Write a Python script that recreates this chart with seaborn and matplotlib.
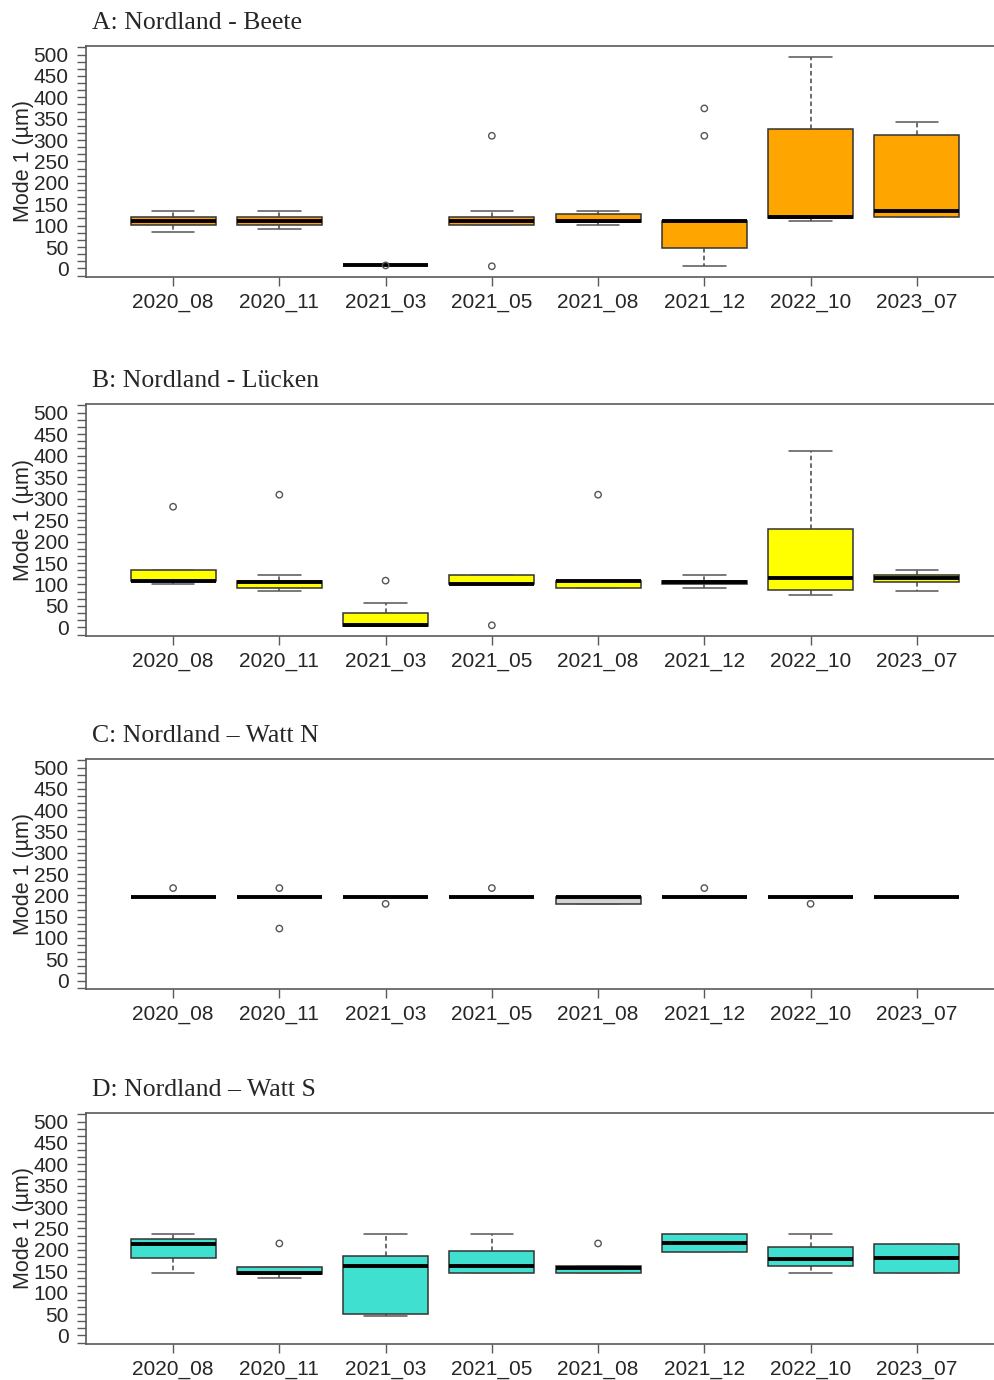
import numpy as np
import pandas as pd
import matplotlib
matplotlib.use("Agg")
import matplotlib.pyplot as plt
from matplotlib.ticker import MultipleLocator
import seaborn as sns

dates = ["2020_08", "2020_11", "2021_03", "2021_05", "2021_08", "2021_12", "2022_10", "2023_07"]

# box summaries: lower whisker, Q1, median, Q3, upper whisker
# A: Nordland - Beete
beete_low = [84, 91, 7, 101, 101, 6, 110, 120]
beete_q1 = [101, 101, 7, 101, 108, 48, 119, 120]
beete_med = [111, 111, 7, 111, 110, 111, 120, 134]
beete_q3 = [120, 120, 7, 120, 128, 111, 325, 313]
beete_high = [134, 134, 7, 134, 134, 111, 495, 342]
beete_out_date = ["2021_03", "2021_05", "2021_05", "2021_12", "2021_12"]
beete_out_val = [7, 310, 5, 374, 310]

# B: Nordland - Lücken
luecken_low = [102, 85, 4, 100, 91, 91, 76, 84]
luecken_q1 = [108, 91, 4, 100, 91, 102, 88, 105]
luecken_med = [109, 105, 6, 102, 107, 105, 116, 116]
luecken_q3 = [133, 109, 33, 121, 109, 108, 230, 121]
luecken_high = [133, 121, 57, 121, 109, 121, 411, 133]
luecken_out_date = ["2020_08", "2020_11", "2021_03", "2021_05", "2021_08"]
luecken_out_val = [281, 309, 109, 5, 309]

# C: Nordland - Watt N
wattn_low = [197, 197, 197, 197, 180, 197, 197, 197]
wattn_q1 = [197, 197, 197, 197, 180, 197, 197, 197]
wattn_med = [197, 197, 197, 197, 197, 197, 197, 197]
wattn_q3 = [197, 197, 197, 197, 197, 197, 197, 197]
wattn_high = [197, 197, 197, 197, 197, 197, 197, 197]
wattn_out_date = ["2020_08", "2020_11", "2020_11", "2021_03", "2021_05", "2021_12", "2022_10"]
wattn_out_val = [217, 217, 122, 180, 217, 217, 180]

# D: Nordland - Watt S
watts_low = [147, 134, 46, 147, 147, 195, 147, 147]
watts_q1 = [181, 144, 49, 147, 147, 195, 162, 147]
watts_med = [214, 147, 162, 162, 157, 215, 179, 181]
watts_q3 = [226, 161, 186, 198, 162, 236, 206, 214]
watts_high = [236, 161, 236, 236, 162, 236, 236, 214]
watts_out_date = ["2020_11", "2021_08"]
watts_out_val = [215, 215]

panels = [
    ("A: Nordland - Beete", "#FFA500",
     [beete_low, beete_q1, beete_med, beete_q3, beete_high], beete_out_date, beete_out_val),
    ("B: Nordland - Lücken", "#FFFF00",
     [luecken_low, luecken_q1, luecken_med, luecken_q3, luecken_high], luecken_out_date, luecken_out_val),
    ("C: Nordland \u2013 Watt N", "#D3D3D3",
     [wattn_low, wattn_q1, wattn_med, wattn_q3, wattn_high], wattn_out_date, wattn_out_val),
    ("D: Nordland \u2013 Watt S", "#40E0D0",
     [watts_low, watts_q1, watts_med, watts_q3, watts_high], watts_out_date, watts_out_val),
]

sns.set_style("ticks")
plt.rcParams['font.family'] = ['Liberation Sans', 'DejaVu Sans']

fig = plt.figure(figsize=(9.94, 13.8), dpi=100)
# axes boxes (bottom, height) as figure fractions, right side runs off the page like the original
rows = [(0.7993, 0.1674), (0.5391, 0.1681), (0.2833, 0.1667), (0.0261, 0.1674)]

grey = "#5a5a5a"
for (title, fill, summary, out_date, out_val), (bot, h) in zip(panels, rows):
    ax = fig.add_axes([0.0865, bot, 0.9235, h])
    df = pd.DataFrame({
        "date": [d for d in dates for _ in range(5)],
        "value": [summary[k][i] for i in range(len(dates)) for k in range(5)],
    })
    sns.boxplot(data=df, x="date", y="value", order=dates, whis=np.inf, showfliers=False,
                color=fill, saturation=1, width=0.8, linecolor="#333333", linewidth=1.1,
                medianprops=dict(color="black", linewidth=2.8),
                whiskerprops=dict(color="#444444", linewidth=1.1, linestyle=(0, (3, 2))),
                capprops=dict(color="#555555", linewidth=1.1),
                ax=ax)
    sns.stripplot(x=out_date, y=out_val, order=dates, jitter=False, color="none",
                  edgecolor="#555555", linewidth=1, size=4.6, ax=ax)

    ax.set_xlim(-0.82, 7.82)
    ax.set_ylim(-20, 520)
    ax.yaxis.set_major_locator(MultipleLocator(50))
    ax.yaxis.set_minor_locator(MultipleLocator(50 / 3))
    ax.tick_params(axis="both", which="both", length=6.5, width=1, color=grey, labelsize=15)
    ax.tick_params(axis="y", pad=6)
    ax.tick_params(axis="x", pad=5)
    for s in ax.spines.values():
        s.set_color(grey)
        s.set_linewidth(1.2)
    ax.set_xlabel("")
    ax.set_ylabel("Mode 1 (\u00b5m)", fontsize=15.5)
    ax.yaxis.set_label_coords(-0.057, 0.5)
    ax.annotate(title, xy=(0, 1), xycoords="axes fraction", xytext=(4.3, 12),
                textcoords="offset points", va="baseline", ha="left",
                fontsize=18.5, family=["Liberation Serif", "DejaVu Serif"])

fig.savefig("out.png", dpi=100)
